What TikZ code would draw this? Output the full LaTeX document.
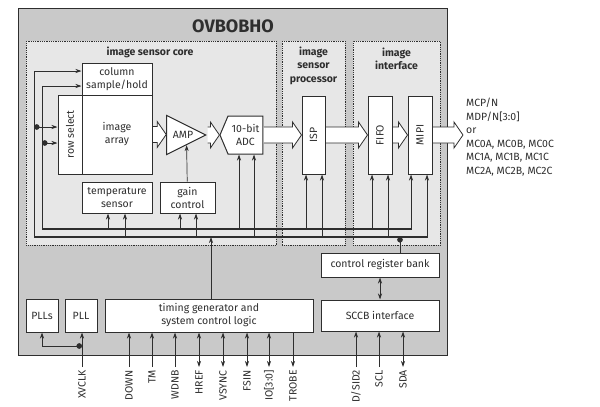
\documentclass[tikz,border=0pt]{standalone}
\usepackage{fontspec}
\setmainfont{Fira Sans}
\usetikzlibrary{calc,arrows,arrows.meta,shapes.geometric,shapes.symbols}

\definecolor{ink}{HTML}{2E2E2E}
\definecolor{chipgray}{HTML}{C9C9C9}
\definecolor{coregray}{HTML}{E7E7E7}

\newcommand\fatarrow[2]{%
  \draw[fat] let \p1=(#1), \p2=(#2) in
    (\x1+0.5pt,\y1+8pt) -- (\x2-9pt,\y1+8pt) -- (\x2-9pt,\y1+13pt) -- (\x2,\y1)
    -- (\x2-9pt,\y1-13pt) -- (\x2-9pt,\y1-8pt) -- (\x1+0.5pt,\y1-8pt);}

\begin{document}
\begin{tikzpicture}[x=1pt, y=-1pt, >={Stealth[length=6pt,width=4pt]},
  every node/.style={font=\fontsize{10.5}{13}\selectfont, text=ink},
  box/.style={draw=ink, fill=white, line width=1pt, align=center, inner sep=0pt},
  region/.style={draw=ink, fill=coregray, densely dotted, line width=0.8pt,
    anchor=north west, inner sep=0pt, minimum height=204},
  head/.style={font=\fontsize{10.5}{13.5}\selectfont\bfseries, align=center},
  fat/.style={draw=ink, fill=white, line width=0.8pt},
  wire/.style={draw=ink, line width=0.7pt},
  bus/.style={draw=ink, line width=1.8pt},
  sig/.style={rotate=90, anchor=east, inner sep=3pt}]

  \useasboundingbox (0,0) rectangle (600,407);

  \node[draw=ink, fill=chipgray, line width=1.4pt, anchor=north west,
    minimum width=429, minimum height=347, inner sep=0pt] (chip) at (18,8) {};
  \node[font=\fontsize{18}{20}\selectfont\bfseries] (name) at (233,26) {OVBOBHO};

  \node[region, minimum width=250] (core) at (26,41) {};
  \node[region, minimum width=63] (ispr) at (282,41) {};
  \node[region, minimum width=87] (ifr) at (353,41) {};
  \node[head] (corelbl) at (150,52) {image sensor core};
  \node[head] (isplbl) at (313.5,65.5) {image\\sensor\\processor};
  \node[head] (iflbl) at (396.5,59) {image\\interface};

  \node[box, minimum width=70, minimum height=32] (colsh) at (117,79) {column\\sample/hold};
  \node[box, minimum width=70, minimum height=79] (array) at (117,134.5) {image\\array};
  \node[box, rotate=90, minimum width=79, minimum height=24] (rowsel) at (70,134.5) {row select};
  \node[box, isosceles triangle, isosceles triangle stretches, anchor=apex,
    minimum width=39, minimum height=39] (amp) at (207,135) {};
  \node[box, signal, signal to=west, signal pointer angle=134,
    minimum width=43, minimum height=38] (adc) at (245.5,135) {10-bit\\ADC};
  \node[box, minimum width=70, minimum height=31] (temp) at (117,197.5) {temperature\\sensor};
  \node[box, minimum width=55, minimum height=31] (gain) at (187.5,197.5) {gain\\control};
  \node[box, rotate=90, minimum width=78, minimum height=23] (isp) at (313.5,135) {ISP};
  \node[box, rotate=90, minimum width=78, minimum height=24] (fifo) at (380,135) {FIFO};
  \node[box, rotate=90, minimum width=78, minimum height=24] (mipi) at (420,135) {MIPI};
  \node[anchor=north west, align=left, inner sep=3pt,
    font=\fontsize{10.5}{13.5}\selectfont] (out) at (463,95)
    {MCP/N\\MDP/N[3:0]\\or\\MC0A, MC0B, MC0C\\MC1A, MC1B, MC1C\\MC2A, MC2B, MC2C};

  \node[box, minimum width=32, minimum height=33] (plls) at (42,315.5) {PLLs};
  \node[box, minimum width=32, minimum height=33] (pll) at (81,315.5) {PLL};
  \node[box, minimum width=208, minimum height=33] (timing) at (209,315.5)
    {timing generator and\\system control logic};
  \node[box, minimum width=118, minimum height=31] (sccb) at (380,315.5) {SCCB interface};
  \node[box, minimum width=118, minimum height=24] (crb) at (380,265) {control register bank};

  \fatarrow{array.east}{amp.west}
  \fatarrow{amp.apex}{adc.west}
  \fatarrow{adc.east}{isp.north}
  \fatarrow{isp.south}{fifo.north}
  \fatarrow{fifo.south}{mipi.north}
  \fatarrow{mipi.south}{out.west}
  \node[inner sep=0pt] (amplbl) at (183,135) {AMP};

  \coordinate (ub-w) at (42,229);
  \coordinate (ub-e) at (412,229);
  \coordinate (lb-w) at (34,237);
  \coordinate (lb-e) at (428,237);
  \draw[bus] (ub-w) -- (ub-e);
  \draw[bus] (lb-w) -- (lb-e);

  \draw[wire,->] (lb-w) |- ($(colsh.west)+(0,-8)$);
  \draw[wire,->] (ub-w) |- ($(colsh.west)+(0,7)$);
  \coordinate (rs1) at (34,127);
  \coordinate (rs2) at (42,143);
  \draw[wire,*->] (rs1) -- (rs1 -| rowsel.north);
  \draw[wire,*->] (rs2) -- (rs2 -| rowsel.north);

  \foreach \n/\a/\b in {temp.south/108/125, gain.south/180/196, adc.south/239/254,
      isp.west/306/322, fifo.west/372/388, mipi.west/411/427} {
    \draw[wire,->] (\a,229) -- (\a,229 |- \n);
    \draw[wire,->] (\b,237) -- (\b,237 |- \n);
  }
  \draw[wire,->] (gain) -- ($(amp.apex)!.5!(amp.right corner)$);

  \coordinate (tap) at (211,237);
  \draw[wire,->] (tap |- timing.north) -- (tap);
  \coordinate (crbtap) at (400,237);
  \draw[wire,*-] (crbtap) -- (crbtap |- crb.north);
  \draw[wire,<->] (crb) -- (sccb);

  \node[sig] (xvclk) at (82,367) {XVCLK};
  \coordinate (clk) at (82,346);
  \draw[wire,->] (xvclk) -- (xvclk |- pll.south);
  \draw[wire,*->] (clk) -| (plls);

  \foreach \x/\t/\s in {129/DOWN/->, 152/TM/->, 175/WDNB/->, 199/HREF/<->,
      223/VSYNC/<->, 247/FSIN/<->, 269/IO[3:0]/<->, 293/TROBE/<-} {
    \node[sig] (s\x) at (\x,367) {\t};
    \draw[wire,\s] (s\x) -- (s\x |- timing.south);
  }
  \foreach \x/\t/\s in {356/{D/SID2}/->, 379/SCL/->, 403/SDA/<->} {
    \node[sig] (s\x) at (\x,367) {\t};
    \draw[wire,\s] (s\x) -- (s\x |- sccb.south);
  }

\end{tikzpicture}
\end{document}
